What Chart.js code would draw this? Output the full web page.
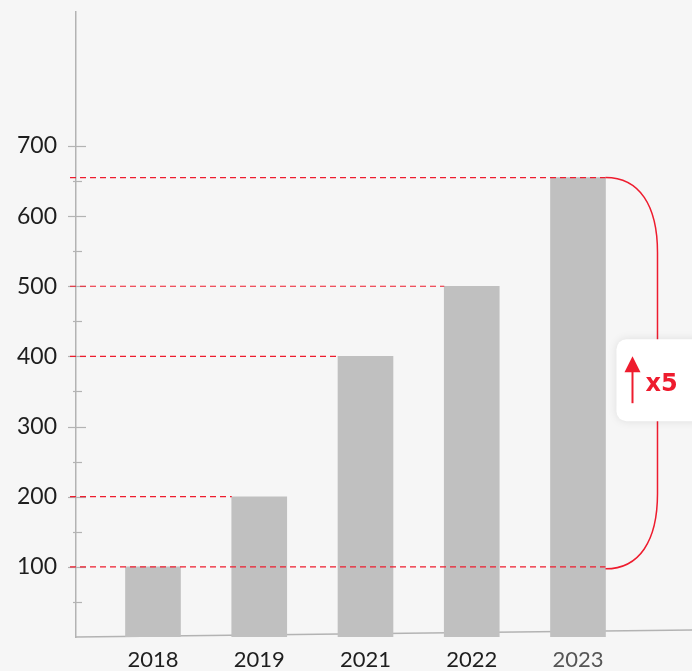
<!DOCTYPE html>
<html>
<head>
<meta charset="utf-8">
<script src="https://cdn.jsdelivr.net/npm/chart.js@4/dist/chart.umd.min.js"></script>
<style>
  body { margin: 0; background: #f6f6f6; }
  #wrap { width: 692px; height: 671px; }
</style>
</head>
<body>
<div id="wrap"><canvas id="chart" width="692" height="671"></canvas></div>
<script>
const years = ["2018", "2019", "2021", "2022", "2023"];
const values = [100, 200, 400, 500, 655];
const yTicks = [100, 200, 300, 400, 500, 600, 700];
const growthLabel = "x5";

const RED = "#ee1c2e";

// guides, axis ticks, bracket and badge
const extras = {
    id: "extras",
    beforeDatasetsDraw(chart) {
        const ctx = chart.ctx;
        const y = chart.scales.y;
        const area = chart.chartArea;
        ctx.save();
        ctx.strokeStyle = "#b3b3b3";
        ctx.lineWidth = 1.5;
        // bottom axis (slightly tilted in the original)
        ctx.beginPath();
        ctx.moveTo(area.left, area.bottom);
        ctx.lineTo(area.right, area.bottom - 7);
        ctx.stroke();
        // major / minor ticks on the value axis
        ctx.lineWidth = 1.2;
        for (let v = 50; v <= 700; v += 50) {
            const py = Math.round(y.getPixelForValue(v)) + 0.5;
            const major = v % 100 === 0;
            ctx.beginPath();
            ctx.moveTo(area.left - (major ? 8 : 3), py);
            ctx.lineTo(area.left + (major ? 10 : 6), py);
            ctx.stroke();
        }
        ctx.restore();
    },
    afterDatasetsDraw(chart) {
        const ctx = chart.ctx;
        const y = chart.scales.y;
        const bars = chart.getDatasetMeta(0).data;
        const last = bars[bars.length - 1];
        const lastRight = last.x + last.width / 2;
        ctx.save();
        ctx.strokeStyle = RED;
        ctx.lineWidth = 1.2;
        ctx.setLineDash([6, 4]);
        values.forEach((v, i) => {
            const py = y.getPixelForValue(v);
            let endX = bars[i].x - bars[i].width / 2;
            if (i === 0 || i === values.length - 1) endX = lastRight;
            ctx.beginPath();
            ctx.moveTo(70, py);
            ctx.lineTo(endX, py);
            ctx.stroke();
        });
        ctx.setLineDash([]);

        // bracket from lowest to highest bar
        const top = y.getPixelForValue(values[values.length - 1]);
        const bot = y.getPixelForValue(values[0]) + 2;
        const bx = lastRight + 52;
        ctx.lineWidth = 1.5;
        ctx.beginPath();
        ctx.moveTo(lastRight, top);
        ctx.bezierCurveTo(lastRight + 34, top, bx, top + 28, bx, top + 75);
        ctx.lineTo(bx, bot - 75);
        ctx.bezierCurveTo(bx, bot - 28, lastRight + 34, bot, lastRight, bot);
        ctx.stroke();

        // badge
        const midY = (top + bot) / 2 + 7;
        const bxL = lastRight + 11, bw = 90, bh = 82;
        ctx.shadowColor = "rgba(0,0,0,0.10)";
        ctx.shadowBlur = 10;
        ctx.fillStyle = "#ffffff";
        ctx.beginPath();
        ctx.roundRect(bxL, midY - bh / 2, bw, bh, 10);
        ctx.fill();
        ctx.shadowColor = "transparent";
        // arrow
        const ax = bxL + 16;
        ctx.strokeStyle = RED;
        ctx.fillStyle = RED;
        ctx.lineWidth = 2;
        ctx.beginPath();
        ctx.moveTo(ax, midY - 20);
        ctx.lineTo(ax, midY + 23);
        ctx.stroke();
        ctx.beginPath();
        ctx.moveTo(ax, midY - 24);
        ctx.lineTo(ax - 8, midY - 8);
        ctx.lineTo(ax + 8, midY - 8);
        ctx.closePath();
        ctx.fill();
        ctx.font = "bold 24px 'DejaVu Sans'";
        ctx.textBaseline = "middle";
        ctx.textAlign = "left";
        ctx.fillText(growthLabel, bxL + 29, midY + 5);
        ctx.restore();
    }
};

new Chart(document.getElementById("chart"), {
    type: "bar",
    data: {
        datasets: [{
            data: values.map((v, i) => ({ x: i, y: v })),
            backgroundColor: "#c0c0c0",
            barThickness: 55
        }]
    },
    options: {
        responsive: false,
        animation: false,
        layout: { padding: { top: 12, left: 0, right: 0, bottom: 0 } },
        plugins: { legend: { display: false }, tooltip: { enabled: false } },
        scales: {
            x: {
                type: "linear",
                offset: false,
                min: -0.7247,
                max: 5.073,
                afterFit(scale) {
                    scale.height = 34;
                    scale.paddingLeft = 0;
                    scale.paddingRight = 0;
                },
                afterBuildTicks(scale) { scale.ticks = years.map((_, i) => ({ value: i })); },
                grid: { display: false, drawTicks: false, offset: false },
                border: { display: false },
                ticks: {
                    padding: 10,
                    autoSkip: false,
                    maxRotation: 0,
                    font: { family: "Lato", size: 22 },
                    color: c => c.index === years.length - 1 ? "#555555" : "#1e1e1e",
                    callback: v => years[v]
                }
            },
            y: {
                min: 0,
                max: 891,
                afterFit(scale) {
                    scale.width = 76;
                    scale.paddingTop = 0;
                    scale.paddingBottom = 0;
                },
                afterBuildTicks(scale) { scale.ticks = yTicks.map(v => ({ value: v })); },
                grid: { display: false, drawTicks: false },
                border: { display: true, color: "#b3b3b3", width: 1.5 },
                ticks: {
                    padding: 19,
                    font: { family: "Lato", size: 23 },
                    color: "#1e1e1e",
                    callback: v => v
                }
            }
        }
    },
    plugins: [extras]
});
</script>
</body>
</html>
